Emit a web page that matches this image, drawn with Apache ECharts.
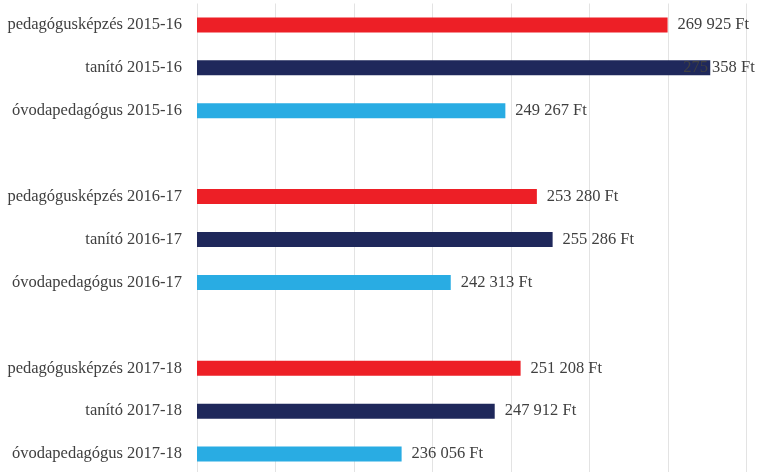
<!DOCTYPE html>
<html>
<head>
<meta charset="utf-8">
<script src="https://cdn.jsdelivr.net/npm/echarts@6/dist/echarts.min.js"></script>
<style>html,body{margin:0;padding:0;background:#fff}#c{width:757px;height:472px}</style>
</head>
<body>
<div id="c"></div>
<script>
var categories = [
  'pedagógusképzés 2015-16', 'tanító 2015-16', 'óvodapedagógus 2015-16', '',
  'pedagógusképzés 2016-17', 'tanító 2016-17', 'óvodapedagógus 2016-17', ' ',
  'pedagógusképzés 2017-18', 'tanító 2017-18', 'óvodapedagógus 2017-18'
];
var values = [269925, 275358, 249267, null, 253280, 255286, 242313, null, 251208, 247912, 236056];
var colors = ['#ED1F26', '#1F285B', '#29ACE3'];
var axisMin = 210000, axisMax = 280000, axisStep = 10000;

var FONT = '"Liberation Serif", "Times New Roman", serif';

function fmt(v) {
  return String(v).replace(/\B(?=(\d{3})+(?!\d))/g, ' ') + ' Ft';
}

var data = values.map(function (v, i) {
  if (v === null) return '-';
  var item = { value: v, itemStyle: { color: colors[i % 4] } };
  if (v > 272000) item.label = { offset: [-37, 0] };
  return item;
});

var chart = echarts.init(document.getElementById('c'), null, { renderer: 'canvas' });
chart.setOption({
  animation: false,
  grid: { left: 197, right: 10.3, top: 3.5, height: 472, containLabel: false, outerBoundsMode: 'none' },
  xAxis: {
    type: 'value', min: axisMin, max: axisMax, interval: axisStep,
    axisLabel: { show: false }, axisLine: { show: false }, axisTick: { show: false },
    splitLine: { show: true, lineStyle: { color: '#E3E3E3', width: 1 } }
  },
  yAxis: {
    type: 'category', data: categories, inverse: true,
    axisLine: { show: false }, axisTick: { show: false },
    axisLabel: { margin: 15, color: '#404040', fontFamily: FONT, fontSize: 16.5 }
  },
  series: [{
    type: 'bar', data: data, barWidth: 15,
    label: {
      show: true, position: 'right', distance: 10,
      color: '#404040', fontFamily: FONT, fontSize: 16.5,
      formatter: function (p) { return fmt(p.value); }
    }
  }]
});
</script>
</body>
</html>
